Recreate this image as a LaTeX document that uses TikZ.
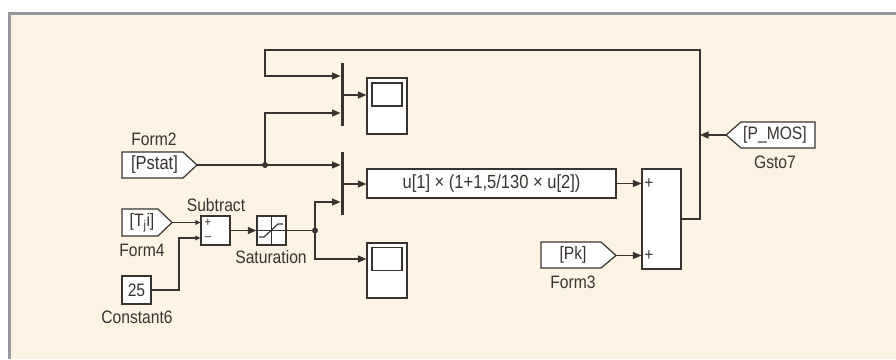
\documentclass[tikz,border=0pt]{standalone}
\usepackage{fontspec}
\setmainfont[FakeStretch=0.87]{Liberation Sans}
\usetikzlibrary{arrows.meta}
\definecolor{bgc}{HTML}{FDF3E2}
\definecolor{framec}{HTML}{98989C}
\definecolor{ink}{HTML}{38332F}
\tikzset{
  blk/.style={draw=ink,line width=1.2pt,fill=white,inner sep=0pt,minimum width=#1},
  lab/.style={text=ink,font=\fontsize{18}{18}\selectfont,inner sep=0pt},
  sgn/.style={text=ink,font=\fontsize{17}{17}\selectfont,inner sep=0pt},
  sgns/.style={text=ink,font=\fontsize{13}{13}\selectfont,inner sep=0pt},
  wire/.style={draw=ink,line width=1.2pt},
  arr/.style={wire,-{Triangle[length=8.5pt,width=7pt]}},
  arrs/.style={wire,-{Triangle[length=5pt,width=4.5pt]}},
  gotoshape/.style={draw=ink,line width=1.2pt,fill=white,line join=miter},
  barc/.style={draw=ink,line width=3pt},
  dot/.style={circle,fill=ink,inner sep=0pt,minimum size=6pt},
}
\begin{document}
\begin{tikzpicture}[x=1pt,y=-1pt]
\useasboundingbox (0,0) rectangle (896,359);
\fill[bgc] (8,12) rectangle (896,359);
\draw[framec,line width=3pt] (9.5,359) -- (9.5,13.5) -- (896,13.5);
% blocks
\draw[gotoshape] (122,152)--(183,152)--(197,165)--(183,178)--(122,178)--cycle;
\node[lab,font=\fontsize{19}{19}\selectfont] (pstat) at (154.5,165) {[Pstat]};
\coordinate (pstatT) at (197,165);
\draw[gotoshape] (122,209)--(158,209)--(172,222.5)--(158,236)--(122,236)--cycle;
\node[lab] (tji) at (142,222.5) {[T\textsubscript{j}i]};
\coordinate (tjiT) at (172,222.5);
\draw[gotoshape] (541,242)--(601,242)--(616,255.5)--(601,268)--(541,268)--cycle;
\node[lab] (pk) at (573,255) {[Pk]};
\coordinate (pkT) at (616,255.5);
\draw[gotoshape] (726,135)--(741,122)--(815,122)--(815,148)--(741,148)--cycle;
\node[lab] (pmos) at (775,135) {[P\_MOS]};
\coordinate (pmosT) at (726,135);
\node[blk=29pt,minimum height=28pt,lab] (const) at (136.5,290) {25};
\node[blk=29pt,minimum height=29pt] (sum) at (215.5,230.5) {};
\node[sgns] (sp) at (208,222.5) {+};
\node[sgns] (sm) at (208,239) {–};
\node[blk=29pt,minimum height=29pt] (sat) at (271.5,230.5) {};
\draw[ink,line width=0.8pt] (sat.north) -- (sat.south) (sat.west |- sat.center) -- (sat.east |- sat.center);
\draw[ink,line width=1.2pt] (259,237)--(264,237)--(278,224)--(283,224);
\node[blk=249pt,minimum height=29pt,lab,font=\fontsize{19}{19}\selectfont] (fcn) at (491.5,183.5) {u[1] × (1+1,5/130 × u[2])};
\node[blk=39pt,minimum height=100pt] (add) at (661.5,219) {};
\node[sgn] (a1) at (649,184) {+};
\node[sgn] (a2) at (649,256) {+};
\node[blk=40pt,minimum height=56pt] (sc1) at (387,106) {};
\node[draw=ink,line width=1.4pt,minimum width=30pt,minimum height=23pt,inner sep=0pt] (sc1s) at (387,94.5) {};
\node[blk=40pt,minimum height=55pt] (sc2) at (387,270.5) {};
\node[draw=ink,line width=1.4pt,minimum width=30pt,minimum height=23pt,inner sep=0pt] (sc2s) at (387,259) {};
% muxes
\coordinate (m1t) at (342,63); \coordinate (m1b) at (342,126);
\coordinate (m2t) at (342,152); \coordinate (m2b) at (342,215);
\draw[barc] (m1t)--(m1b);
\draw[barc] (m2t)--(m2b);
\coordinate (m1a) at (340.5,76); \coordinate (m1c) at (340.5,113); \coordinate (m1o) at (343.5,95);
\coordinate (m2a) at (340.5,165); \coordinate (m2c) at (340.5,202); \coordinate (m2o) at (343.5,184);
% junctions
\node[dot] (j1) at (265,165) {};
\node[dot] (j2) at (315,230.5) {};
\coordinate (jn) at (700,135);
% wires
\draw[arr] (pstatT) -- (m2a);
\draw[arr] (j1.center) |- (m1c);
\draw[arr] (add.east) -| (700,50) -| (265,76) -- (m1a);
\draw[arr] (m1o) -- (sc1.west |- m1o);
\draw[arr] (m2o) -- (fcn.west |- m2o);
\draw[arrs] (tjiT) -- (sum.west |- tjiT);
\draw[arrs] (const.east) -| (179,238) -- (sum.west |- 0,238);
\draw[arr] (sum.east) -- (sat.west);
\draw[wire] (sat.east) -- (j2.center);
\draw[arr] (j2.center) |- (m2c);
\draw[arr] (j2.center) |- (sc2.west |- 0,259);
\draw[arr] (fcn.east) -- (add.west |- fcn.east);
\draw[arr] (pkT) -- (add.west |- pkT);
\draw[arr] (pmosT) -- (jn);
% labels
\node[lab] (l1) at (154,139) {Form2};
\node[lab] (l2) at (216,205) {Subtract};
\node[lab] (l3) at (142,250) {Form4};
\node[lab] (l4) at (137,317) {Constant6};
\node[lab] (l5) at (271,257) {Saturation};
\node[lab] (l6) at (573,282) {Form3};
\node[lab] (l7) at (775,162) {Gsto7};
\end{tikzpicture}
\end{document}
